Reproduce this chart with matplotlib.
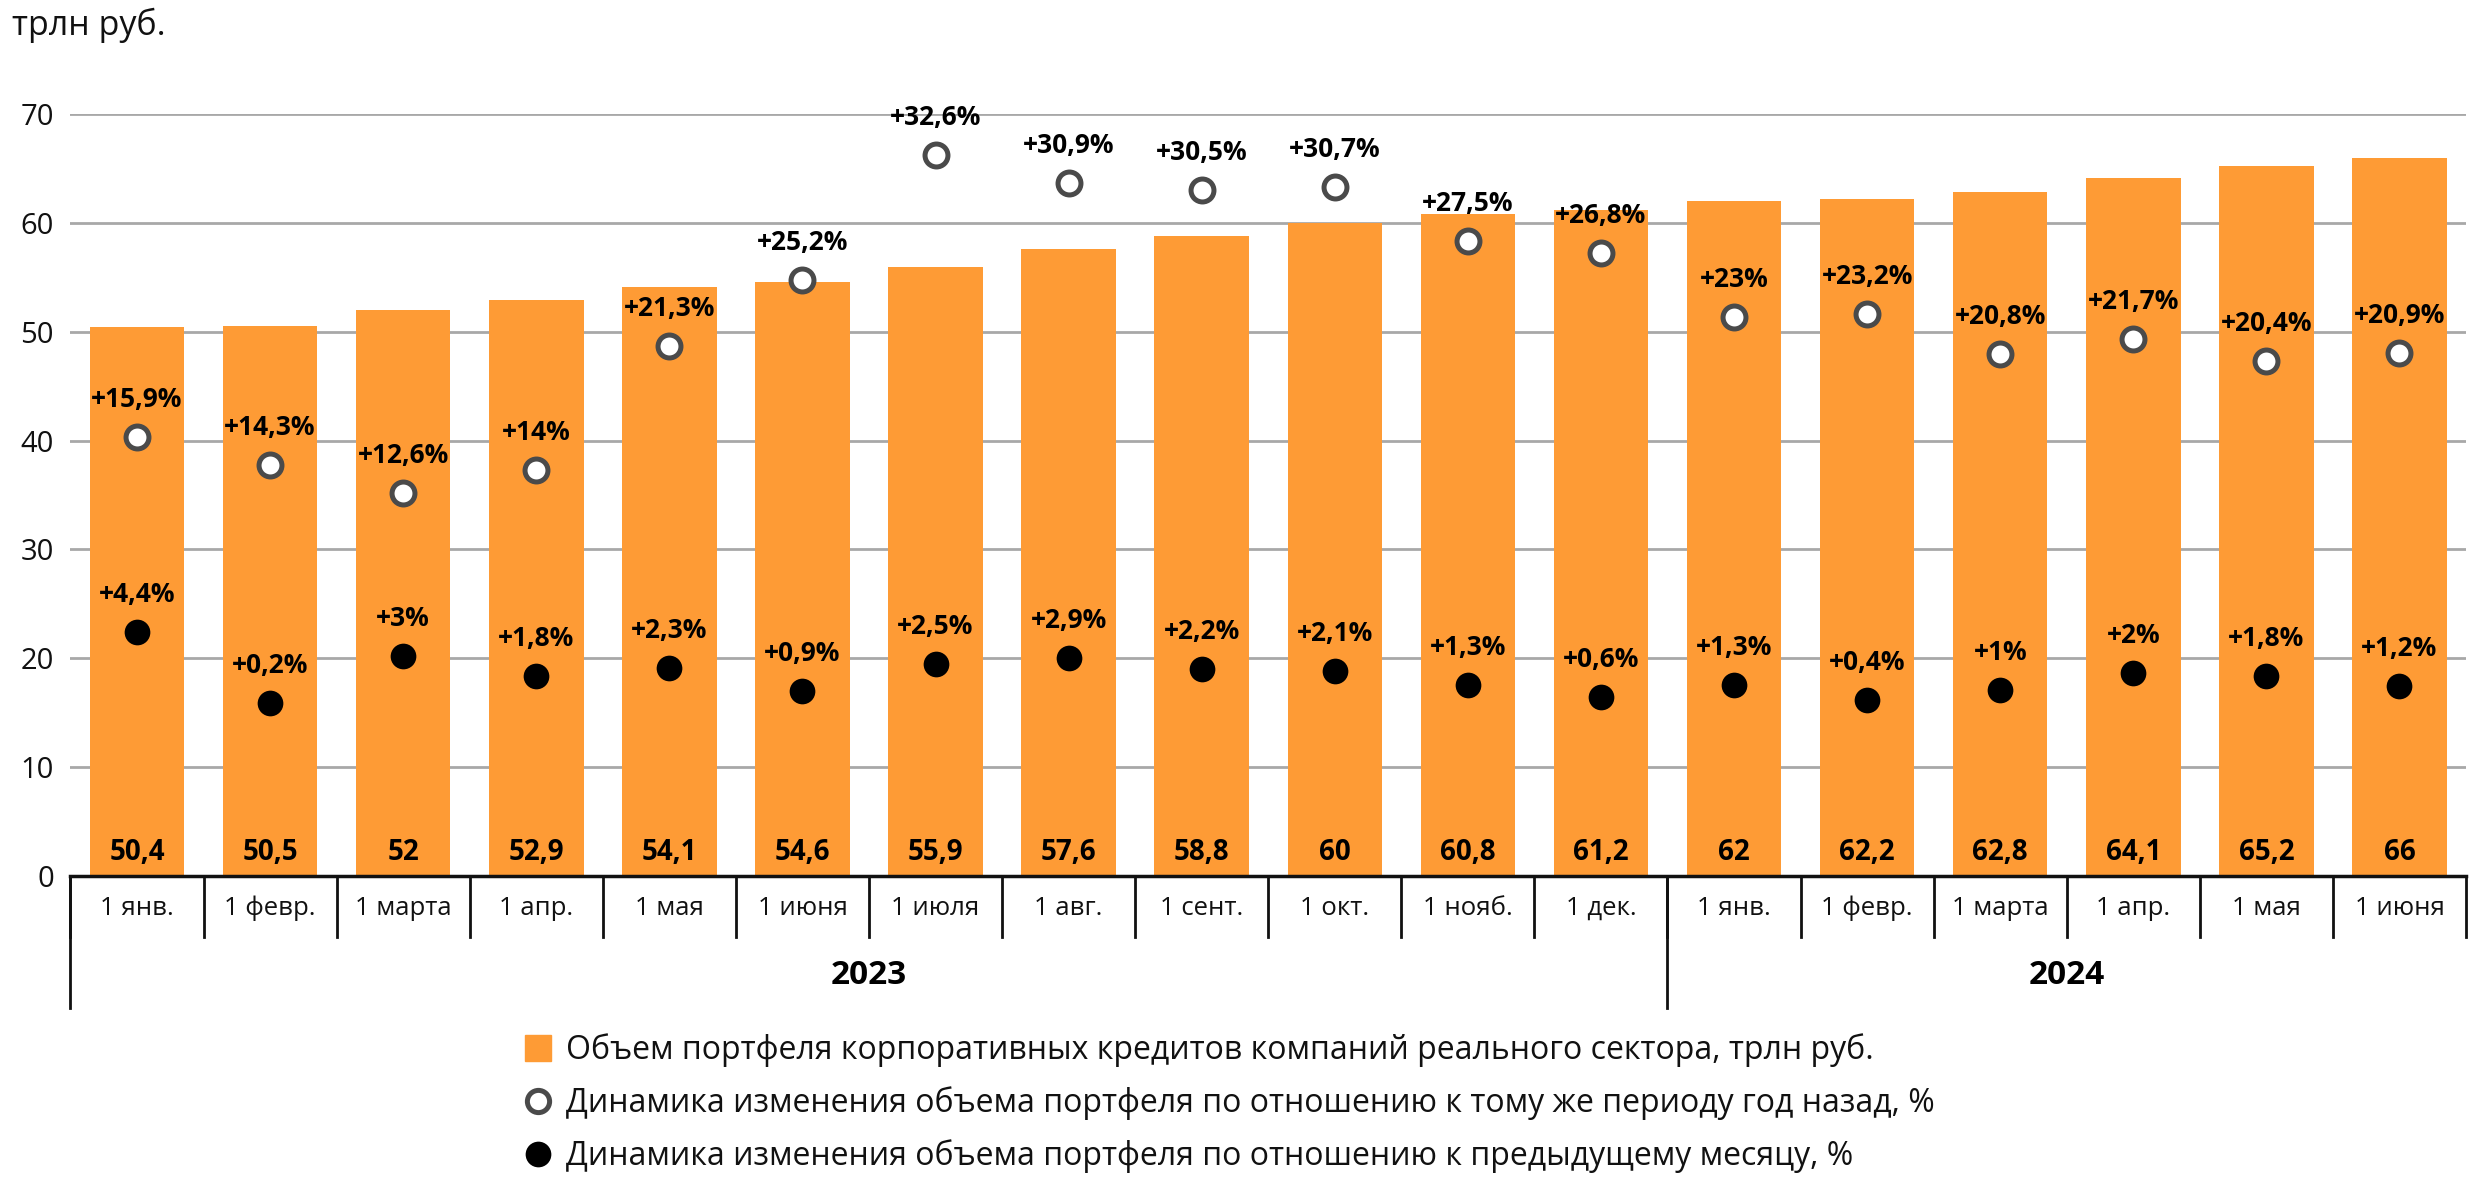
import matplotlib
matplotlib.use("Agg")
import matplotlib.pyplot as plt
from matplotlib.lines import Line2D

# данные: портфель корпоративных кредитов (трлн руб.) и динамика, %
months = ['1 янв.', '1 февр.', '1 марта', '1 апр.', '1 мая', '1 июня', '1 июля', '1 авг.',
          '1 сент.', '1 окт.', '1 нояб.', '1 дек.',
          '1 янв.', '1 февр.', '1 марта', '1 апр.', '1 мая', '1 июня']
years = ['2023', '2024']
year_len = [12, 6]
volume = [50.4, 50.5, 52, 52.9, 54.1, 54.6, 55.9, 57.6, 58.8, 60, 60.8, 61.2,
          62, 62.2, 62.8, 64.1, 65.2, 66]
yoy = [15.9, 14.3, 12.6, 14, 21.3, 25.2, 32.6, 30.9, 30.5, 30.7, 27.5, 26.8,
       23, 23.2, 20.8, 21.7, 20.4, 20.9]
mom = [4.4, 0.2, 3, 1.8, 2.3, 0.9, 2.5, 2.9, 2.2, 2.1, 1.3, 0.6,
       1.3, 0.4, 1, 2, 1.8, 1.2]
legend_labels = ['Объем портфеля корпоративных кредитов компаний реального сектора, трлн руб.',
                 'Динамика изменения объема портфеля по отношению к тому же периоду год назад, %',
                 'Динамика изменения объема портфеля по отношению к предыдущему месяцу, %']

ORANGE = '#fe9b35'
RING = '#4a4a4a'

plt.rcParams['font.family'] = ['Open Sans', 'DejaVu Sans']

def fmt(v):
    return ('%g' % v).replace('.', ',')

fig = plt.figure(figsize=(24.76, 11.86), dpi=100)
ax = fig.add_axes([0.02847, 0.26138, 0.96749, 0.64250])
x = list(range(len(months)))

ax.bar(x, volume, width=0.71, color=ORANGE, zorder=2)
for xi, v in zip(x, volume):
    ax.text(xi, 2.2, fmt(v), ha='center', va='center', fontsize=20, fontweight='bold', zorder=3)

ax.set_xlim(-0.5, len(months) - 0.5)
ax.set_ylim(0, 70)
ax.set_yticks(range(0, 71, 10))
ax.tick_params(axis='y', length=0, pad=12, labelsize=21, labelcolor='#111111')
ax.set_xticks([])
ax.grid(axis='y', color='#a8a8a8', lw=2, zorder=0)
ax.set_axisbelow(True)
for s in ax.spines.values():
    s.set_visible(False)
ax.axhline(0, color='#111111', lw=2.5, zorder=4, clip_on=False)

# подписи месяцев и рамка
tr = ax.get_xaxis_transform()
for xi, m in zip(x, months):
    ax.text(xi, -0.042, m, transform=tr, ha='center', va='center', fontsize=18.5,
            color='#111111')
for b in range(len(months) + 1):
    ax.plot([b - 0.5, b - 0.5], [0, -0.080], transform=tr, color='#111111', lw=2, clip_on=False)
start = 0
for yr, n in zip(years, year_len):
    ax.text(start + n / 2 - 0.5, -0.131, yr, transform=tr, ha='center', va='center',
            fontsize=24, fontweight='bold')
    start += n
for b in [0, year_len[0]]:
    ax.plot([b - 0.5, b - 0.5], [0, -0.173], transform=tr, color='#111111', lw=2, clip_on=False)

# проценты на второй оси
ax2 = ax.twinx()
ax2.set_ylim(-10, 35)
ax2.axis('off')
ax2.plot(x, yoy, ls='', marker='o', ms=16.5, mfc='white', mec=RING, mew=3.6, zorder=5)
ax2.plot(x, mom, ls='', marker='o', ms=18.5, mfc='black', mec='black', mew=0, zorder=5)
for xi, a, b in zip(x, yoy, mom):
    ax2.annotate('+' + fmt(a) + '%', (xi, a), xytext=(0, 27), textcoords='offset points',
                 ha='center', va='center', fontsize=19, fontweight='bold', annotation_clip=False)
    ax2.annotate('+' + fmt(b) + '%', (xi, b), xytext=(0, 27), textcoords='offset points',
                 ha='center', va='center', fontsize=19, fontweight='bold', annotation_clip=False)

fig.text(12 / 2476, 1 - 35 / 1186, 'трлн руб.', ha='left', va='baseline', fontsize=24.5,
         color='#111111')

handles = [Line2D([], [], ls='', marker='s', ms=19, color=ORANGE),
           Line2D([], [], ls='', marker='o', ms=16, mfc='white', mec=RING, mew=3.6),
           Line2D([], [], ls='', marker='o', ms=18.5, mfc='black', mec='black', mew=0)]
leg = fig.legend(handles, legend_labels, loc='upper left', bbox_to_anchor=(520 / 2476, 1 - 1033 / 1186),
                 frameon=False, fontsize=23, handletextpad=0.3, labelspacing=0.6,
                 handlelength=1.15, borderpad=0, borderaxespad=0)
for t in leg.get_texts():
    t.set_color('#111111')

fig.savefig('out.png', dpi=100)
